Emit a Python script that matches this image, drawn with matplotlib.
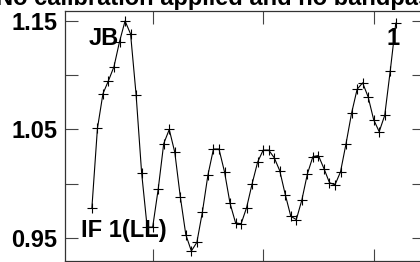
from __future__ import annotations

import matplotlib

matplotlib.use("Agg")
import matplotlib.pyplot as plt
from matplotlib.ticker import FixedLocator, FuncFormatter

# Channel numbers and amplitude values
channels = list(range(9, 65))
amplitude = [
    0.978, 1.051, 1.083, 1.095, 1.108, 1.131, 1.150, 1.138, 1.082, 1.010,
    0.960, 0.960, 0.995, 1.037, 1.050, 1.029, 0.988, 0.953, 0.938, 0.946,
    0.974, 1.008, 1.032, 1.032, 1.011, 0.982, 0.964, 0.963, 0.978, 1.000,
    1.020, 1.031, 1.031, 1.024, 1.012, 0.990, 0.970, 0.967, 0.985, 1.009,
    1.025, 1.026, 1.014, 1.001, 0.999, 1.011, 1.037, 1.065, 1.087, 1.093,
    1.080, 1.059, 1.048, 1.063, 1.104, 1.148,
]
y_ticks = [0.95, 1.00, 1.05, 1.10, 1.15]
y_labels = {0.95: "0.95", 1.05: "1.05", 1.15: "1.15"}
x_ticks = [20, 40, 60]

title = "No calibration applied and no bandpass applied"
source_label = "JB"
channel_label = "1"
if_label = "IF 1(LL)"

plt.rcParams["font.family"] = ["Liberation Sans", "DejaVu Sans"]
plt.rcParams["font.weight"] = "bold"

W, H = 420, 262
fig = plt.figure(figsize=(W / 100, H / 100), dpi=100)
# axes run a little past the right edge of the image, as in the reference
ax = fig.add_axes([65 / W, 1 / H, 359 / W, 250 / H])

ax.plot(
    channels,
    amplitude,
    color="black",
    linewidth=0.8,
    marker="+",
    markersize=6.5,
    markeredgewidth=0.8,
)

ax.set_xlim(4.13, 69.11)
ax.set_ylim(0.9288, 1.1592)

ax.xaxis.set_major_locator(FixedLocator(x_ticks))
ax.yaxis.set_major_locator(FixedLocator(y_ticks))
ax.yaxis.set_major_formatter(
    FuncFormatter(lambda v, _: y_labels.get(round(v, 2), ""))
)
ax.tick_params(
    direction="in",
    length=9,
    width=0.8,
    color="#444444",
    top=True,
    right=True,
    labelbottom=False,
    labelsize=17,
    pad=5.5,
)
for lab in ax.get_yticklabels():
    lab.set_fontweight("bold")
for sp in ax.spines.values():
    sp.set_color("#333333")
    sp.set_linewidth(0.9)

txt = dict(transform=ax.transAxes, fontsize=17, fontweight="bold", color="black")
ax.text(0.065, 0.864, source_label, ha="left", va="baseline", **txt)
ax.text(0.933, 0.864, channel_label, ha="right", va="baseline", **txt)
ax.text(0.044, 0.096, if_label, ha="left", va="baseline", **txt)

fig.text(
    -4 / W, 1 - 5 / H, title,
    ha="left", va="baseline", fontsize=17, fontweight="bold", color="black",
)

fig.savefig("out.png", dpi=100, facecolor="white")
plt.close(fig)
